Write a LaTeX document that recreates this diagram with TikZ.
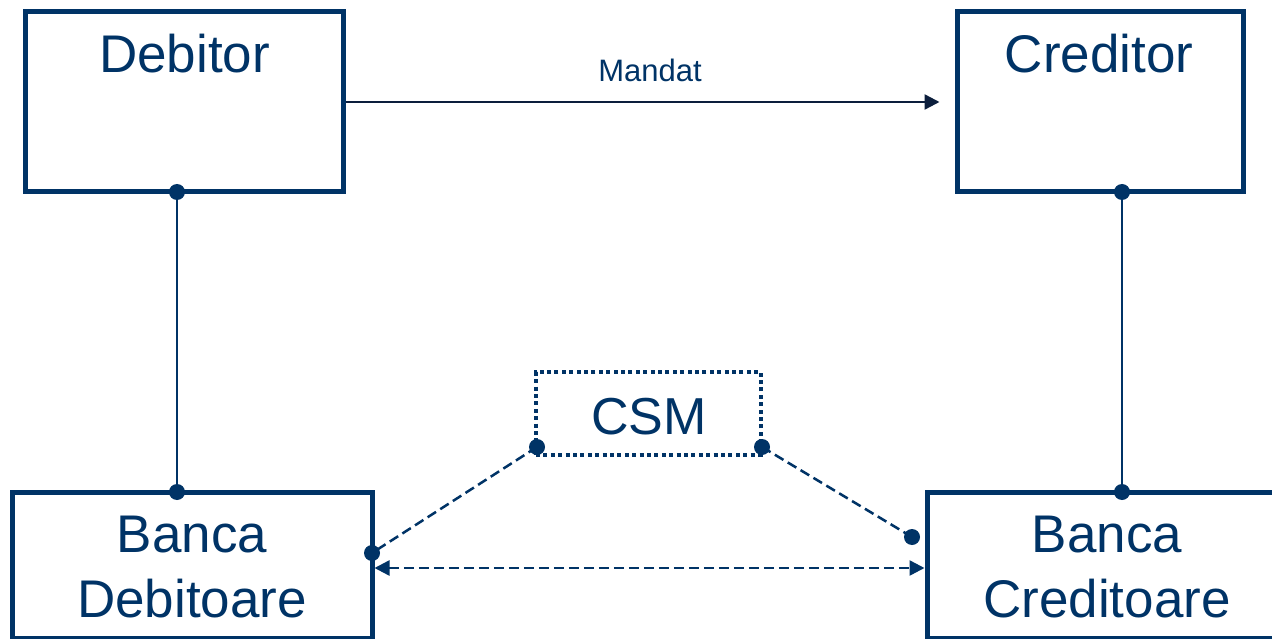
\documentclass[tikz,border=0pt]{standalone}
\usepackage{fontspec}
\setmainfont{Liberation Sans}
\usetikzlibrary{arrows.meta}
\definecolor{navy}{RGB}{0,51,102}
\definecolor{darknavy}{RGB}{12,30,60}
\tikzset{
  box/.style={draw=navy, line width=5pt, rectangle, inner sep=0pt},
  lbl/.style={text=navy, anchor=base, inner sep=0pt, font=\fontsize{53}{63}\selectfont},
  small/.style={text=navy, anchor=base, inner sep=0pt, font=\fontsize{31}{37}\selectfont},
  csmbox/.style={draw=navy, line width=4pt, rectangle, inner sep=0pt, dash pattern=on 4pt off 3.4pt},
  link/.style={draw=navy, line width=2pt},
  dlink/.style={draw=navy, line width=2.5pt, dash pattern=on 10pt off 5pt},
  dot/.style={fill=navy},
  tip/.style={-{Triangle[length=15pt,width=15pt]}}
}
\begin{document}
\begin{tikzpicture}[x=1pt,y=-1pt]
\useasboundingbox (0,0) rectangle (1272,639);
\clip (0,0) rectangle (1272,639);
% boxes
\node[box, minimum width=318pt, minimum height=180pt] (deb) at (184,102) {};
\node[lbl] (debt) at (184.5,73) {Debitor};
\node[box, minimum width=286pt, minimum height=180pt] (cred) at (1100,102) {};
\node[lbl] (credt) at (1099,73) {Creditor};
\node[box, minimum width=360pt, minimum height=146pt] (bdeb) at (192,565) {};
\node[lbl] (bdeb1) at (192,552) {Banca};
\node[lbl] (bdeb2) at (192,617) {Debitoare};
\node[box, minimum width=360pt, minimum height=146pt] (bcred) at (1107,565) {};
\node[lbl] (bcred1) at (1107,552) {Banca};
\node[lbl] (bcred2) at (1107,617) {Creditoare};
\node[csmbox, minimum width=225pt, minimum height=83pt] (csm) at (648.5,413.5) {};
\node[lbl, font=\fontsize{52}{62}\selectfont] (csmt) at (649,434) {CSM};
% mandat
\draw[darknavy, line width=2.5pt, tip, shorten >=15pt] (deb.east) -- (cred.west)
  node[small, midway, above=20pt, anchor=base] (mandat) {Mandat};
% vertical links
\coordinate (ds) at (177,192);
\coordinate (db) at (177,492);
\coordinate (cs) at (1122,192);
\coordinate (cb) at (1122,492);
\draw[link] (ds) -- (db);
\draw[link] (cs) -- (cb);
\fill[dot] (ds) circle (8pt);
\fill[dot] (db) circle (8pt);
\fill[dot] (cs) circle (8pt);
\fill[dot] (cb) circle (8pt);
% CSM links
\coordinate (csmL) at (537,447);
\coordinate (csmR) at (762,447);
\coordinate (bdL) at (372,553);
\coordinate (bcR) at (912,537);
\draw[dlink] (csmL) -- (bdL);
\draw[dlink] (csmR) -- (bcR);
\fill[dot] (csmL) circle (8pt);
\fill[dot] (csmR) circle (8pt);
\fill[dot] (bdL) circle (8pt);
\fill[dot] (bcR) circle (8pt);
% direct link
\draw[dlink, {Triangle[length=15pt,width=15pt]}-{Triangle[length=15pt,width=15pt]}] (bdeb.east |- 0,568) -- (bcred.west |- 0,568);
\end{tikzpicture}
\end{document}
